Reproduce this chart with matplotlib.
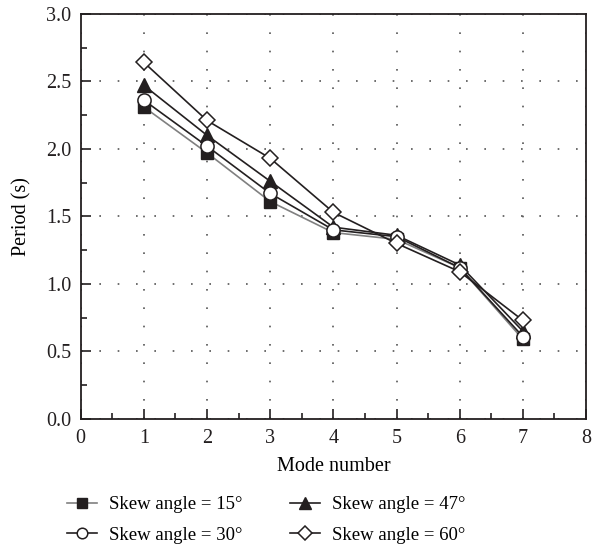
import matplotlib as mpl
mpl.use('Agg')
import matplotlib.pyplot as plt
from matplotlib.ticker import MultipleLocator

modes = [1, 2, 3, 4, 5, 6, 7]
skew_15 = [2.31, 1.97, 1.61, 1.38, 1.33, 1.12, 0.59]
skew_30 = [2.36, 2.02, 1.67, 1.40, 1.35, 1.12, 0.61]
skew_47 = [2.47, 2.10, 1.76, 1.42, 1.36, 1.14, 0.65]
skew_60 = [2.64, 2.21, 1.93, 1.53, 1.30, 1.09, 0.73]

plt.rcParams['font.family'] = ['Liberation Serif', 'DejaVu Serif']
fs = 14.5

fig = plt.figure(figsize=(5.98, 5.52), dpi=100)
ax = fig.add_axes([0.135, 0.241, 0.845, 0.734])

ax.plot(modes, skew_15, color='#808080', lw=1.2, marker='s', ms=8.5,
        mfc='#231f20', mec='#231f20', label='Skew angle = 15°', zorder=3)
ax.plot(modes, skew_30, color='#231f20', lw=1.2, marker='o', ms=9.5,
        mfc='white', mec='#231f20', mew=1.1, label='Skew angle = 30°', zorder=4)
ax.plot(modes, skew_47, color='#231f20', lw=1.2, marker='^', ms=10.5,
        mfc='#231f20', mec='#231f20', label='Skew angle = 47°', zorder=3)
ax.plot(modes, skew_60, color='#231f20', lw=1.2, marker='D', ms=8.5,
        mfc='white', mec='#231f20', mew=1.1, label='Skew angle = 60°', zorder=5)

ax.set_xlim(0, 8)
ax.set_ylim(0, 3.0)
ax.xaxis.set_major_locator(MultipleLocator(1))
ax.xaxis.set_minor_locator(MultipleLocator(0.5))
ax.yaxis.set_major_locator(MultipleLocator(0.5))
ax.yaxis.set_minor_locator(MultipleLocator(0.25))
ax.yaxis.set_major_formatter(mpl.ticker.FormatStrFormatter('%.1f'))
ax.tick_params(which='major', direction='in', length=7, width=1.2, colors='#231f20')
ax.tick_params(which='minor', direction='in', length=4, width=1.2, colors='#231f20')
ax.tick_params(labelsize=fs, pad=7)
for s in ax.spines.values():
    s.set_linewidth(1.3)
    s.set_color('#231f20')
ax.grid(True, which='major', linestyle=(0, (1, 10)), color='#555555', lw=1.2)

ax.set_xlabel('Mode number', fontsize=fs, labelpad=7)
ax.set_ylabel('Period (s)', fontsize=fs, labelpad=10)

h, l = ax.get_legend_handles_labels()
fig.legend(h, l, loc='center', bbox_to_anchor=(0.445, 0.058), ncol=2,
           frameon=False, fontsize=13.5, handlelength=1.6, columnspacing=2.5,
           labelspacing=0.72, handletextpad=0.64, markerscale=0.8,
           borderpad=0)

fig.savefig('out.png', dpi=100)
